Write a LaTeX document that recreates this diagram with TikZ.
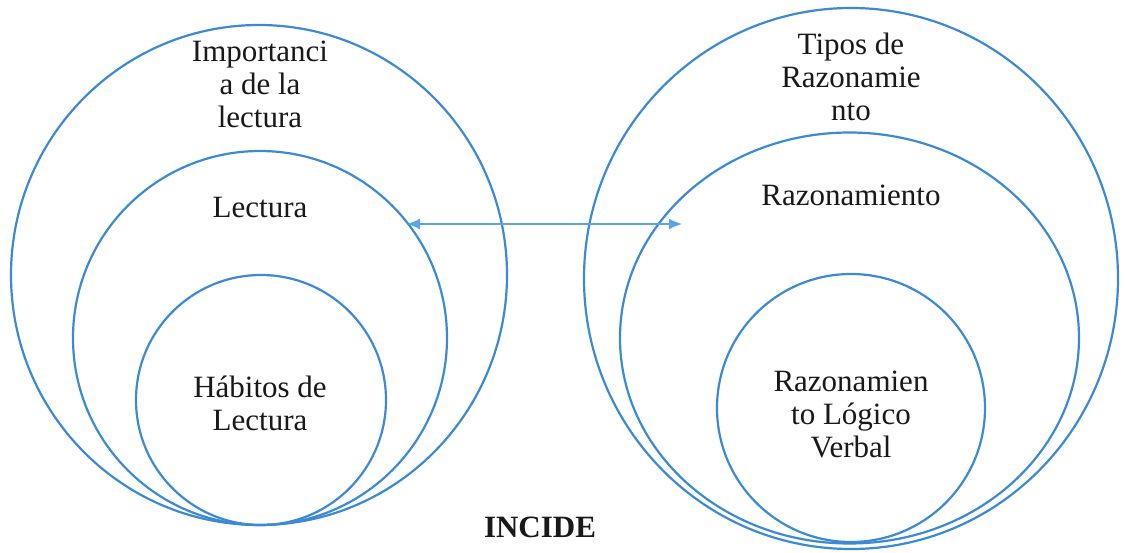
\documentclass[tikz,border=0pt]{standalone}
\usepackage{fontspec}
\setmainfont{Liberation Serif}
\usetikzlibrary{shapes.geometric,arrows.meta}
\definecolor{ringblue}{RGB}{60,138,214}
\definecolor{arrowblue}{RGB}{90,165,230}
\definecolor{inktext}{RGB}{25,25,25}
\tikzset{
  ring/.style={ellipse,draw=ringblue,line width=2.2pt,inner sep=0pt,outer sep=0pt},
  label/.style={inner sep=0pt,outer sep=0pt,align=center,text=inktext,
    font=\fontsize{31}{33}\selectfont},
  link/.style={draw=arrowblue,line width=1.6pt,
    {Latex[length=13pt,width=11pt]}-{Latex[length=13pt,width=11pt]}}
}
\begin{document}
\begin{tikzpicture}[x=1pt,y=-1pt]
\useasboundingbox[fill=white] (0,0) rectangle (1125,553);
% left rings
\node[ring,minimum width=496pt,minimum height=500pt] (Lout) at (259,275) {};
\node[ring,minimum width=374pt,minimum height=374pt] (Lmid) at (260,338) {};
\node[ring,minimum width=250pt,minimum height=250pt] (Lin) at (261,400) {};
% right rings
\node[ring,minimum width=534pt,minimum height=541pt] (Rout) at (851,278.5) {};
\node[ring,minimum width=459pt,minimum height=411pt] (Rmid) at (849.5,338) {};
\node[ring,minimum width=268pt,minimum height=268pt] (Rin) at (851,408) {};
% texts
\node[label,anchor=north] (tImp) at (260,41) {Importanci\\a de la\\lectura};
\node[label,anchor=north] (tLec) at (260,197.5) {Lectura};
\node[label,anchor=north] (tHab) at (260,376) {Hábitos de\\Lectura};
\node[label,anchor=north] (tTip) at (851,32.5) {Tipos de\\Razonamie\\nto};
\node[label,anchor=north] (tRaz) at (851,185) {Razonamiento};
\node[label,anchor=north] (tRLV) at (851,371) {Razonamien\\to Lógico\\Verbal};
\node[label,anchor=base,font=\fontsize{31}{33}\selectfont\bfseries] (tInc) at (540,537) {INCIDE};
% connector
\coordinate (aL) at (407,224);
\coordinate (aR) at (682,224);
\draw[link] (aL) -- (aR);
\end{tikzpicture}
\end{document}
